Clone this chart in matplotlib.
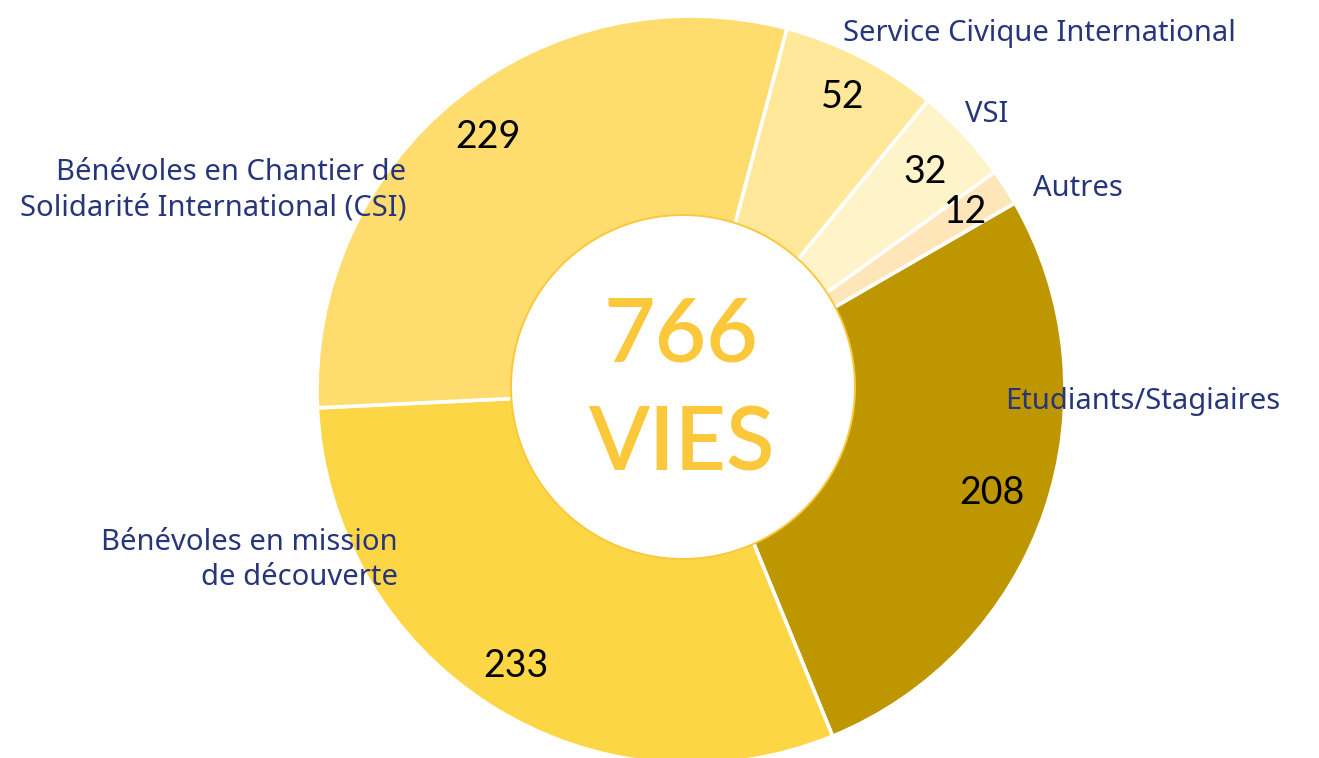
import matplotlib.pyplot as plt
from matplotlib.patches import Circle

# data, clockwise from the dark segment
categories = ["Etudiants/Stagiaires", "Bénévoles en mission\nde découverte",
              "Bénévoles en Chantier de\nSolidarité International (CSI)",
              "Service Civique International", "VSI", "Autres"]
values = [208, 233, 229, 52, 32, 12]
colors = ["#BE9600", "#FDD646", "#FEDD6E", "#FFE899", "#FFF3C9", "#FFE6B8"]
total_label = ["766", "VIES"]

navy = "#27357A"
gold = "#FBC83B"
plt.rcParams['font.family'] = ['Lato', 'DejaVu Sans']

fig = plt.figure(figsize=(13.19, 7.58), dpi=100)
ax = fig.add_axes([0, 0, 1, 1])

H = 758
cx, cy = 691, H - 390
R = 374
r_in = 172

wedges, _ = ax.pie(values, colors=colors, startangle=30, counterclock=False,
                   center=(cx, cy), radius=R,
                   wedgeprops=dict(width=R - 140, edgecolor="white", linewidth=2.6))

ax.add_patch(Circle((cx - 8, cy + 3), r_in, facecolor="white",
                    edgecolor=gold, linewidth=1.4, zorder=3))

# value labels (pixel positions)
val_pos = [(992, 493), (516, 666), (488, 137), (843, 97), (925, 172), (966, 212)]
for v, (x, y) in zip(values, val_pos):
    ax.text(x, H - y, str(v), ha="center", va="center", fontsize=27,
            color="black", zorder=4)

# category labels
lab_style = [(1005, 401, "left"), (398, 560, "right"), (406, 190, "right"),
             (843, 33, "left"), (965, 115, "left"), (1033, 189, "left")]
for name, (x, y, ha) in zip(categories, lab_style):
    ax.text(x, H - y, name, ha=ha, va="center", fontsize=21, color=navy,
            family=['Noto Sans', 'DejaVu Sans'], fontweight="medium",
            multialignment=ha, linespacing=1.3, zorder=4)

ax.text(cx - 10, H - 336, total_label[0], ha="center", va="center",
        fontsize=64, color=gold, fontweight="semibold", zorder=4)
ax.text(cx - 10, H - 445, total_label[1], ha="center", va="center",
        fontsize=64, color=gold, fontweight="semibold", zorder=4)

ax.set_xlim(0, 1319)
ax.set_ylim(0, H)
ax.set_aspect("equal")
ax.axis("off")

fig.savefig("out.png", dpi=100)
